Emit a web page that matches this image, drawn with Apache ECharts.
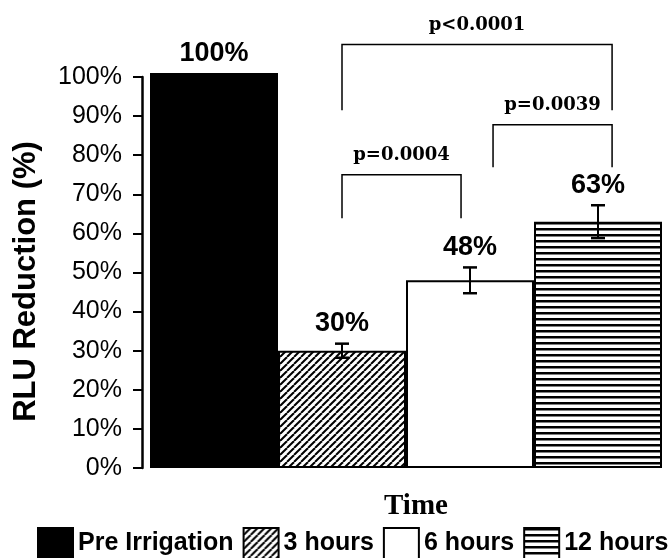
<!DOCTYPE html>
<html><head><meta charset="utf-8">
<script src="https://cdn.jsdelivr.net/npm/echarts@6/dist/echarts.min.js"></script>
<style>html,body{margin:0;padding:0;background:#fff}#c{width:672px;height:558px}</style>
</head><body><div id="c"></div>
<script>
// ---- data ----
const categories = ['Pre Irrigation', '3 hours', '6 hours', '12 hours'];
const values = [101, 30, 48, 63];
const valueLabels = ['100%', '30%', '48%', '63%'];
const errors = [0, 1.8, 3.3, 4.2];
const yMin = 0, yMax = 100, yStep = 10;
// significance brackets (x in category units, y in % units)
const bracketFrom = [1.0, 2.18, 1.0];
const bracketTo = [3.11, 3.11, 1.93];
const bracketTop = [108.3, 87.8, 75.0];
const bracketLeg = [91.5, 76.9, 63.9];
const bracketLabels = ['p<0.0001', 'p=0.0039', 'p=0.0004'];

// ---- patterns ----
function diagPattern() {
  const s = 7, c = document.createElement('canvas'); c.width = s; c.height = s;
  const g = c.getContext('2d'); g.fillStyle = '#fff'; g.fillRect(0, 0, s, s);
  g.strokeStyle = '#000'; g.lineWidth = 2;
  [-s, 0, s].forEach(o => { g.beginPath(); g.moveTo(o, s); g.lineTo(o + s, 0); g.stroke(); });
  return c;
}
function horizPattern() {
  const s = 6, c = document.createElement('canvas'); c.width = s; c.height = s;
  const g = c.getContext('2d'); g.fillStyle = '#fff'; g.fillRect(0, 0, s, s);
  g.fillStyle = '#000'; g.fillRect(0, 0, s, 2.5);
  return c;
}
const fills = ['#000', { image: diagPattern(), repeat: 'repeat' }, '#fff', { image: horizPattern(), repeat: 'repeat' }];

const chart = echarts.init(document.getElementById('c'), null, { renderer: 'canvas' });

const barSeries = categories.map((name, i) => ({
  name, type: 'bar', stack: 'all', barWidth: '100%', clip: false,
  data: categories.map((_, j) => (j === i ? values[i] : '-')),
  itemStyle: { color: fills[i], borderColor: '#000', borderWidth: 2 },
  silent: true
}));

const errSeries = {
  type: 'custom', silent: true, z: 10, clip: false,
  encode: { x: 0, y: 1 },
  data: categories.map((_, i) => [i, values[i], errors[i]]),
  renderItem(params, api) {
    const i = params.dataIndex;
    const v = api.value(1), e = api.value(2);
    const top = api.coord([i, v + e]), bot = api.coord([i, v - e]);
    const ch = [];
    if (e > 0) {
      const hw = 7;
      ch.push({ type: 'line', shape: { x1: top[0], y1: top[1], x2: bot[0], y2: bot[1] }, style: { stroke: '#000', lineWidth: 2 } });
      ch.push({ type: 'line', shape: { x1: top[0] - hw, y1: top[1], x2: top[0] + hw, y2: top[1] }, style: { stroke: '#000', lineWidth: 2.5 } });
      ch.push({ type: 'line', shape: { x1: bot[0] - hw, y1: bot[1], x2: bot[0] + hw, y2: bot[1] }, style: { stroke: '#000', lineWidth: 2.5 } });
    }
    ch.push({ type: 'text', style: { text: valueLabels[i], x: top[0], y: top[1] - 20, align: 'center', verticalAlign: 'middle',
      fontSize: 27, fontWeight: 'bold', fontFamily: '"Liberation Sans", Arial, sans-serif', fill: '#000' } });
    return { type: 'group', children: ch };
  }
};

const bracketSeries = {
  type: 'custom', silent: true, z: 10, clip: false,
  encode: { x: 0, y: 1 },
  data: bracketLabels.map((_, k) => [0, bracketTop[k], bracketLeg[k], bracketFrom[k], bracketTo[k]]),
  renderItem(params, api) {
    const k = params.dataIndex;
    const base = api.coord([0, api.value(1)]);
    const band = api.size([1, 0])[0];
    const yTop = base[1];
    const yLeg = api.coord([0, api.value(2)])[1];
    const x1 = base[0] + api.value(3) * band, x2 = base[0] + api.value(4) * band;
    return { type: 'group', children: [
      { type: 'polyline', shape: { points: [[x1, yLeg], [x1, yTop], [x2, yTop], [x2, yLeg]] }, style: { stroke: '#000', fill: null, lineWidth: 1.5 } },
      { type: 'text', style: { text: bracketLabels[k], x: (x1 + x2) / 2, y: yTop - 19, align: 'center', verticalAlign: 'middle',
        fontSize: 18, fontWeight: 'bold', fontFamily: '"DejaVu Serif", serif', fill: '#000' } }
    ] };
  }
};

chart.setOption({
  animation: false,
  backgroundColor: '#fff',
  grid: { left: 150, right: 10, top: 77, bottom: 90 },
  legend: {
    data: categories, left: 37, top: 527, width: 700, padding: 0, icon: 'rect', itemWidth: 35, itemHeight: 31, itemGap: 9,
    selectedMode: false,
    textStyle: { fontSize: 25, fontWeight: 'bold', fontFamily: '"Liberation Sans", Arial, sans-serif', color: '#000' }
  },
  xAxis: {
    type: 'category', data: categories,
    axisLine: { show: false }, axisTick: { show: false }, axisLabel: { show: false },
    name: 'Time', nameLocation: 'middle', nameGap: 24,
    nameTextStyle: { fontSize: 29, fontWeight: 'bold', fontFamily: '"Liberation Serif", "Times New Roman", serif', color: '#000', padding: [0, 0, 0, 20] }
  },
  yAxis: {
    type: 'value', min: yMin, max: yMax, interval: yStep, offset: 8,
    splitLine: { show: false },
    axisLine: { show: true, lineStyle: { color: '#000', width: 2.5 } },
    axisTick: { show: true, length: 9, lineStyle: { color: '#000', width: 2 } },
    axisLabel: { formatter: '{value}%', fontSize: 25, fontFamily: '"Liberation Sans", Arial, sans-serif', color: '#000', margin: 20 },
    name: 'RLU Reduction (%)', nameLocation: 'middle', nameGap: 100, nameRotate: 90,
    nameTextStyle: { fontSize: 31, fontWeight: 'bold', fontFamily: '"Liberation Sans", Arial, sans-serif', color: '#000', padding: [0, 18, 0, 0] }
  },
  series: [...barSeries, errSeries, bracketSeries]
});
</script></body></html>
